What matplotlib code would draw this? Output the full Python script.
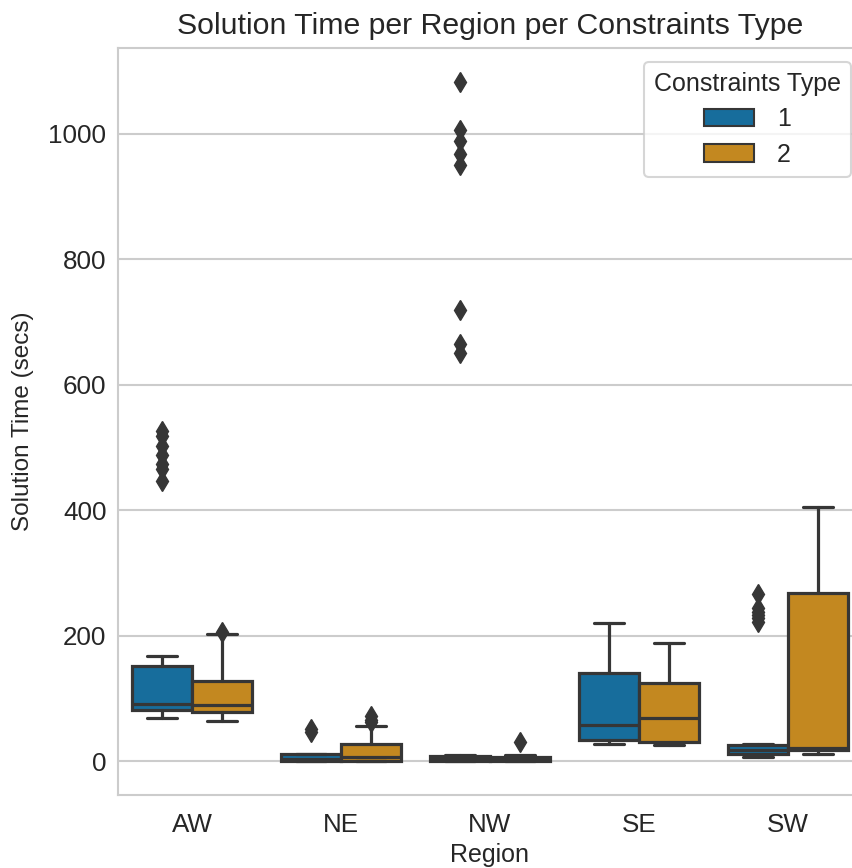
import matplotlib
matplotlib.use("Agg")
import matplotlib.pyplot as plt
import seaborn as sns
import colorsys
from matplotlib.patches import Patch

# ---------------- data ----------------
regions = ["AW", "NE", "NW", "SE", "SW"]
types = ["1", "2"]

whislo_1 = [68, 0, 0, 27, 7]
q1_1 = [82, 1, 1, 33, 12]
med_1 = [91, 4, 4, 58, 17]
q3_1 = [151, 11, 8, 140, 25]
whishi_1 = [168, 11, 10, 221, 28]
fliers_1 = [[527, 518, 502, 488, 473, 465, 446],
            [52, 46],
            [1082, 1006, 988, 968, 951, 720, 665, 650],
            [],
            [267, 244, 238, 233, 228, 222]]

whislo_2 = [64, 0, 0, 26, 12]
q1_2 = [78, 1, 1, 31, 18]
med_2 = [89, 7, 3, 69, 21]
q3_2 = [127, 27, 6, 124, 268]
whishi_2 = [203, 56, 9, 189, 405]
fliers_2 = [[206], [72, 66, 62], [30], [], []]

title = "Solution Time per Region per Constraints Type"
xlabel = "Region"
ylabel = "Solution Time (secs)"
legend_title = "Constraints Type"

# ---------------- style ----------------
sns.set_style("whitegrid")
plt.rcParams["font.family"] = ["Liberation Sans", "DejaVu Sans"]

pal = sns.color_palette("colorblind")[:2]
colors = [sns.desaturate(c, 0.75) for c in pal]
lum = min(colorsys.rgb_to_hls(*c)[1] for c in colors) * 0.6
gray = (lum, lum, lum)
txt = "#262626"

fig = plt.figure(figsize=(8.52, 8.68), dpi=100)
W, H = 852, 868
ax = fig.add_axes([117.5 / W, (H - 795) / H, 745 / W, (795 - 48) / H])

groups = [
    (whislo_1, q1_1, med_1, q3_1, whishi_1, fliers_1),
    (whislo_2, q1_2, med_2, q3_2, whishi_2, fliers_2),
]
lw = 2.3
for j, (wl, a, m, b, wh, fl) in enumerate(groups):
    stats = []
    for i in range(len(regions)):
        stats.append(dict(whislo=wl[i], q1=a[i], med=m[i], q3=b[i],
                          whishi=wh[i], fliers=fl[i]))
    pos = [i + (j - 0.5) * 0.4 for i in range(len(regions))]
    ax.bxp(stats, positions=pos, widths=0.4, patch_artist=True,
           showfliers=True, manage_ticks=False,
           boxprops=dict(facecolor=colors[j], edgecolor=gray, linewidth=lw),
           medianprops=dict(color=gray, linewidth=lw),
           whiskerprops=dict(color=gray, linewidth=lw),
           capprops=dict(color=gray, linewidth=lw, solid_capstyle="round"),
           flierprops=dict(marker="d", markerfacecolor=gray,
                           markeredgecolor=gray, markersize=10,
                           linestyle="none"))

ax.set_xlim(-0.5, len(regions) - 0.5)
ax.set_ylim(-54, 1137)
ax.set_xticks(range(len(regions)))
ax.set_xticklabels(regions)
ax.set_yticks([0, 200, 400, 600, 800, 1000])
ax.tick_params(axis="both", labelsize=18.7, length=0, colors=txt)
ax.tick_params(axis="x", pad=13)
ax.tick_params(axis="y", pad=8)
ax.grid(axis="y", color="#cccccc", linewidth=1.5)
ax.grid(axis="x", visible=False)
ax.set_axisbelow(True)
for s in ax.spines.values():
    s.set_color("#cccccc")
    s.set_linewidth(1.5)

ax.set_title(title, fontsize=21.8, color=txt, pad=10)
ax.set_xlabel(xlabel, fontsize=18, color=txt, labelpad=4)
ax.set_ylabel(ylabel, fontsize=17.5, color=txt, labelpad=10)

handles = [Patch(facecolor=colors[k], edgecolor=gray, linewidth=1.5,
                 label=types[k]) for k in range(len(types))]
leg = ax.legend(handles=handles, title=legend_title, loc="upper right",
                bbox_to_anchor=((851 - 117.5) / 745, (795 - 62) / 747),
                fontsize=18, title_fontsize=18, frameon=True,
                borderaxespad=0, handlelength=2.0, handleheight=0.7,
                handletextpad=0.9, labelspacing=0.45, borderpad=0.4)
leg.get_frame().set_edgecolor("#cccccc")
leg.get_frame().set_linewidth(1.5)

fig.savefig("out.png", dpi=100)
